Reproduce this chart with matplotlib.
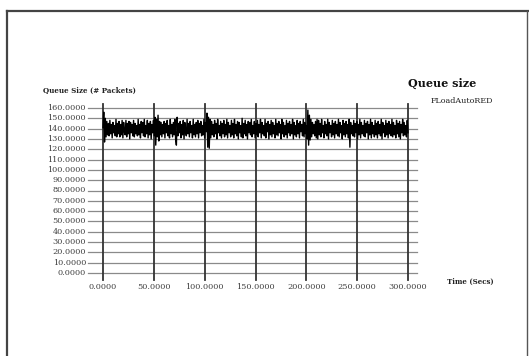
import numpy as np
import matplotlib
matplotlib.use("Agg")
import matplotlib.pyplot as plt

# Queue occupancy samples (packets) for the FLoadAutoRED run, 0-300 s
queue = [
    141, 156, 127, 150, 132, 147, 134, 145, 133, 148, 135, 144, 131, 146, 136, 143, 133, 149, 132, 145,
    135, 147, 132, 144, 134, 148, 131, 146, 137, 134, 148, 132, 145, 135, 147, 130, 146, 136, 144, 133,
    148, 132, 145, 135, 143, 133, 149, 134, 144, 131, 147, 136, 146, 133, 149, 132, 143, 135, 148, 131,
    145, 134, 147, 130, 144, 136, 148, 133, 151, 124, 149, 132, 153, 128, 147, 134, 146, 132, 144, 135,
    147, 131, 145, 136, 148, 133, 143, 131, 149, 135, 144, 132, 146, 134, 149, 130, 124, 151, 133, 145,
    136, 147, 131, 144, 134, 148, 130, 146, 137, 133, 149, 135, 145, 132, 147, 136, 143, 131, 149, 134,
    144, 132, 146, 135, 148, 131, 145, 136, 147, 133, 143, 134, 149, 131, 146, 137, 155, 122, 151, 121,
    149, 131, 147, 134, 144, 132, 148, 135, 145, 130, 149, 136, 143, 133, 147, 131, 145, 135, 148, 132,
    144, 134, 149, 131, 146, 136, 143, 132, 148, 134, 145, 131, 149, 135, 144, 133, 147, 130, 146, 136,
    143, 132, 150, 131, 145, 135, 148, 133, 144, 130, 147, 136, 146, 134, 149, 132, 143, 135, 147, 131,
    145, 134, 148, 132, 144, 136, 149, 131, 146, 135, 143, 133, 149, 131, 145, 137, 147, 130, 144, 134,
    148, 132, 146, 135, 143, 131, 149, 134, 145, 133, 147, 136, 144, 130, 149, 135, 146, 132, 143, 134,
    148, 131, 145, 136, 147, 133, 144, 135, 149, 130, 146, 134, 143, 132, 148, 135, 145, 131, 147, 137,
    144, 133, 149, 132, 146, 135, 143, 130, 158, 124, 153, 129, 149, 132, 146, 135, 144, 133, 147, 131,
    149, 130, 148, 134, 145, 132, 149, 136, 143, 131, 147, 135, 144, 133, 149, 130, 146, 136, 143, 132,
    148, 134, 145, 131, 147, 135, 144, 133, 149, 132, 146, 136, 143, 130, 148, 134, 145, 132, 147, 135,
    144, 131, 149, 122, 146, 135, 143, 133, 148, 132, 145, 136, 147, 130, 144, 134, 149, 131, 146, 135,
    143, 133, 148, 132, 145, 136, 147, 130, 144, 134, 149, 131, 146, 135, 143, 132, 148, 134, 145, 131,
    147, 135, 144, 133, 149, 130, 146, 136, 143, 132, 148, 134, 145, 131, 147, 135, 144, 133, 149, 132,
    146, 134, 143, 131, 148, 135, 145, 132, 147, 130, 144, 136, 149, 133, 146, 134, 143, 132, 148, 136,
]
t_start, t_end = 0.0, 300.0
time = np.linspace(t_start, t_end, len(queue))

x_ticks = [0, 50, 100, 150, 200, 250, 300]
y_ticks = [0, 10, 20, 30, 40, 50, 60, 70, 80, 90, 100, 110, 120, 130, 140, 150, 160]

title = "Queue size"
series_name = "FLoadAutoRED"
y_label = "Queue Size (# Packets)"
x_label = "Time (Secs)"

W, H = 529, 356
fig = plt.figure(figsize=(W / 100, H / 100), dpi=100)
fig.patch.set_facecolor("white")

def fx(px):
    return px / W

def fy(py):
    return 1 - py / H

# plotting area: x 0..300 -> px 103..408, y 0..160 -> px 273..108
ax = fig.add_axes([fx(103), fy(273), fx(408) - fx(103), fy(108) - fy(273)])
ax.set_xlim(0, 300)
ax.set_ylim(0, 160)
ax.axis("off")

xs = 305 / 300.0   # px per second
ys = 165 / 160.0   # px per packet

font = "DejaVu Serif"
label_col = "#404040"

# horizontal grid, extends past the data range
for v in y_ticks:
    ax.plot([-15 / xs, 314 / xs], [v, v], color="#8a8a8a", lw=0.9,
            clip_on=False, zorder=1)
    ax.text(-17 / xs, v, f"{v:.4f}", ha="right", va="center", fontsize=5.9,
            family=font, color=label_col, clip_on=False)

# vertical grid
for v in x_ticks:
    ax.plot([v, v], [-7 / ys, 169 / ys], color="#333333", lw=1.3,
            clip_on=False, zorder=2)
    ax.text(v, -14 / ys, f"{v:.4f}", ha="center", va="center", fontsize=5.9,
            family=font, color=label_col, clip_on=False)

ax.plot(time, queue, color="black", lw=1.0, zorder=3, clip_on=False)

fig.text(fx(442), fy(83), title, ha="center", va="center", fontsize=8,
         family=font, fontweight="bold", color="#111111")
fig.text(fx(462), fy(101), series_name, ha="center", va="center", fontsize=5.8,
         family=font, color="#222222")
fig.text(fx(43), fy(91), y_label, ha="left", va="center", fontsize=5.1,
         family=font, fontweight="bold", color="#222222")
fig.text(fx(470), fy(282), x_label, ha="center", va="center", fontsize=5.0,
         family=font, fontweight="bold", color="#222222")

# outer frame
fig.add_artist(plt.Line2D([fx(7), fx(7)], [fy(11), fy(356)], color="#444444", lw=1.6))
fig.add_artist(plt.Line2D([fx(7), fx(529)], [fy(11), fy(11)], color="#444444", lw=1.6))
fig.add_artist(plt.Line2D([fx(527), fx(527)], [fy(11), fy(356)], color="#555555", lw=1.0))

fig.savefig("out.png", dpi=100, facecolor="white")
